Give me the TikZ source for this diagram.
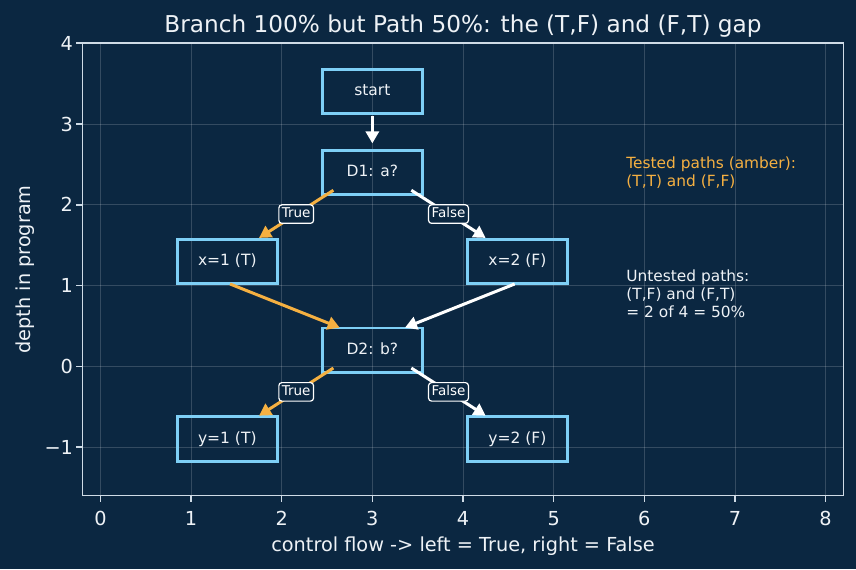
\documentclass[tikz,border=0pt]{standalone}
\usepackage{fontspec}
\setmainfont{DejaVu Sans}
\usetikzlibrary{arrows.meta,calc}
\definecolor{bg}{HTML}{0B2741}
\definecolor{boxc}{HTML}{7ECFF6}
\definecolor{amber}{HTML}{F5B041}
\definecolor{spine}{HTML}{CFDBE6}
\definecolor{txt}{HTML}{EEF2F6}
\tikzset{
  flowbox/.style={draw=boxc, line width=2.9pt, minimum width=99.7pt, minimum height=44.4pt,
    inner sep=0pt, text=txt, font=\fontsize{15.5}{18}\selectfont, text height=11.8pt, text depth=3.7pt},
  flowarrow/.style={line width=3pt, -{Triangle[length=12pt,width=13pt]}},
  edgelab/.style={draw=white, fill=bg, rounded corners=3pt, line width=1.2pt, text=white,
    font=\fontsize{13.5}{16}\selectfont, inner xsep=3pt, inner ysep=2.5pt, text height=10.3pt, text depth=3.2pt},
  gridline/.style={draw=white, draw opacity=0.17, line width=0.8pt},
  spineline/.style={draw=spine, line width=1.5pt},
  ticklab/.style={text=txt, font=\fontsize{19.3}{23}\selectfont},
  note/.style={anchor=west, align=left, inner sep=0pt, font=\fontsize{15.4}{18.3}\selectfont},
}
\begin{document}
\begin{tikzpicture}[x=90.65pt,y=80.8pt]
\useasboundingbox (-1.1075,-2.5074) rectangle (8.3354,4.5347);
\fill[bg] (-1.1075,-2.5074) rectangle (8.3354,4.5347);
% grid
\foreach \x in {0,...,8} \draw[gridline] (\x,-1.6) -- (\x,4);
\foreach \y in {-1,...,4} \draw[gridline] (-0.2,\y) -- (8.2,\y);
% spines and ticks
\draw[spineline] (-0.2,-1.6) rectangle (8.2,4);
\foreach \x in {0,...,8} {
  \draw[spineline] (\x,-1.6) -- ++(0pt,-6.7pt);
  \node[ticklab, anchor=base] (xt\x) at (\x,-1.969) {\x};
}
\foreach \y/\l in {-1/−1,0/0,1/1,2/2,3/3,4/4} {
  \draw[spineline] (-0.2,\y) -- ++(-6.7pt,0pt);
  \node[ticklab, anchor=base east, inner sep=0pt] (yt\y) at (-0.30,\y-0.087) {\l};
}
% labels
\node[text=txt, font=\fontsize{23.2}{28}\selectfont, anchor=base] (title) at (4,4.135)
  {Branch 100\% but Path 50\%: the (T,F) and (F,T) gap};
\node[ticklab, anchor=base] (xlab) at (4,-2.293) {control flow -> left = True, right = False};
\node[ticklab, anchor=base, rotate=90] (ylab) at (-0.774,1.2) {depth in program};
% flow nodes
\node[flowbox] (start) at (3,3.4) {start};
\node[flowbox] (d1) at (3,2.4) {D1: a?};
\node[flowbox] (x1) at (1.4,1.3) {x=1 (T)};
\node[flowbox] (x2) at (4.6,1.3) {x=2 (F)};
\node[flowbox] (d2) at (3,0.2) {D2: b?};
\node[flowbox] (y1) at (1.4,-0.9) {y=1 (T)};
\node[flowbox] (y2) at (4.6,-0.9) {y=2 (F)};
% connectors
\draw[flowarrow, white] ($(start)+(0,-0.30)$) -- ($(d1)+(0,0.36)$);
\draw[flowarrow, amber] ($(d1)+(-0.43,-0.22)$) -- node[edgelab] (l1) {True} ($(x1)+(0.35,0.29)$);
\draw[flowarrow, white] ($(d1)+(0.43,-0.22)$) -- node[edgelab] (l2) {False} ($(x2)+(-0.35,0.29)$);
\draw[flowarrow, amber] ($(x1)+(0.03,-0.28)$) -- ($(d2)+(-0.36,0.28)$);
\draw[flowarrow, white] ($(x2)+(-0.03,-0.28)$) -- ($(d2)+(0.36,0.28)$);
\draw[flowarrow, amber] ($(d2)+(-0.43,-0.22)$) -- node[edgelab] (l3) {True} ($(y1)+(0.35,0.29)$);
\draw[flowarrow, white] ($(d2)+(0.43,-0.22)$) -- node[edgelab] (l4) {False} ($(y2)+(-0.35,0.29)$);
% notes
\node[note, text=amber] (tested) at (5.8,2.4) {Tested paths (amber):\\(T,T) and (F,F)};
\node[note, text=txt] (untested) at (5.8,0.9) {Untested paths:\\(T,F) and (F,T)\\= 2 of 4 = 50\%};
\end{tikzpicture}
\end{document}
